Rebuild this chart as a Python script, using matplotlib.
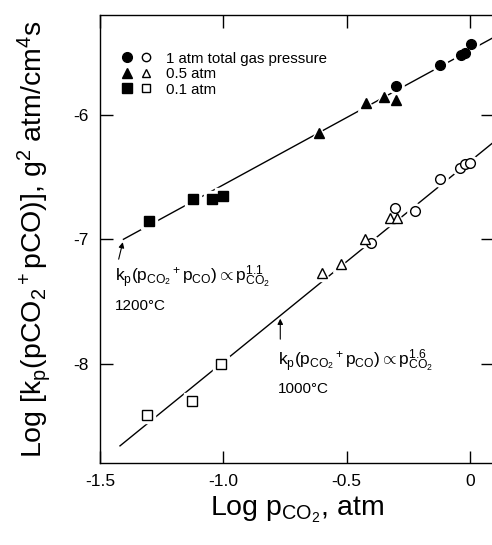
import numpy as np
import matplotlib
matplotlib.use("Agg")
import matplotlib.pyplot as plt
from matplotlib.lines import Line2D
from matplotlib.legend_handler import HandlerTuple

plt.rcParams['font.family'] = ['Liberation Sans', 'DejaVu Sans']
plt.rcParams['mathtext.fontset'] = 'custom'
plt.rcParams['mathtext.rm'] = 'Liberation Sans'
plt.rcParams['mathtext.it'] = 'Liberation Sans'
plt.rcParams['mathtext.bf'] = 'Liberation Sans:bold'
plt.rcParams['axes.unicode_minus'] = False

#-----------------------------
# data
#-----------------------------
# 1200 C (filled symbols)
hot_1atm_x = [-0.298, -0.120, -0.038, -0.018, 0.006]
hot_1atm_y = [-5.767, -5.600, -5.520, -5.500, -5.430]
hot_05atm_x = [-0.611, -0.420, -0.347, -0.298]
hot_05atm_y = [-6.145, -5.900, -5.855, -5.880]
hot_01atm_x = [-1.300, -1.122, -1.045, -1.000]
hot_01atm_y = [-6.850, -6.675, -6.675, -6.650]

# 1000 C (open symbols)
cold_1atm_x = [-0.401, -0.302, -0.221, -0.120, -0.042, -0.018, 0.000]
cold_1atm_y = [-7.030, -6.745, -6.769, -6.516, -6.423, -6.396, -6.388]
cold_05atm_x = [-0.600, -0.521, -0.424, -0.323, -0.295]
cold_05atm_y = [-7.271, -7.197, -6.998, -6.825, -6.825]
cold_01atm_x = [-1.309, -1.128, -1.008]
cold_01atm_y = [-8.410, -8.300, -8.000]

# fitted lines: slope, intercept, x range
hot_fit = (1.08, -5.481, -1.405, 0.095)
cold_fit = (1.61, -6.373, -1.419, 0.095)

legend_labels = ["1 atm total gas pressure", "0.5 atm", "0.1 atm"]
x_ticks = [-1.5, -1.0, -0.5, 0.0]
x_ticklabels = ["-1.5", "-1.0", "-0.5", "0"]
y_ticks = [-8, -7, -6]

#-----------
# the figure
#-----------
fig = plt.figure(figsize=(4.92, 5.45), dpi=100)
ax = fig.add_axes([0.2033, 0.1505, 0.7994, 0.822])

for slope, icpt, x0, x1 in (hot_fit, cold_fit):
    xs = np.array([x0, x1])
    ax.plot(xs, icpt + slope * xs, color='black', lw=1.0, zorder=2)

def pts(x, y, marker, ms, filled):
    # white halo gives the small gaps in the line around each symbol
    ax.plot(x, y, ls='none', marker=marker, ms=ms + 4, color='white', zorder=3)
    fc = 'black' if filled else 'white'
    h, = ax.plot(x, y, ls='none', marker=marker, ms=ms, mfc=fc, mec='black',
                 mew=1.0, zorder=4)
    return h

pts(hot_1atm_x, hot_1atm_y, 'o', 7, True)
pts(hot_05atm_x, hot_05atm_y, '^', 7.5, True)
pts(hot_01atm_x, hot_01atm_y, 's', 7, True)
pts(cold_1atm_x, cold_1atm_y, 'o', 7, False)
pts(cold_05atm_x, cold_05atm_y, '^', 7.5, False)
pts(cold_01atm_x, cold_01atm_y, 's', 7, False)

def proxy(marker, filled, ms):
    return Line2D([], [], ls='none', marker=marker, ms=ms,
                  mfc='black' if filled else 'white', mec='black', mew=1.0)

leg = ax.legend([(proxy('o', True, 7), proxy('o', False, 6)),
                 (proxy('^', True, 7), proxy('^', False, 6)),
                 (proxy('s', True, 7), proxy('s', False, 6))],
                legend_labels, handler_map={tuple: HandlerTuple(ndivide=None, pad=0.5)},
                loc='upper left', bbox_to_anchor=(0.055, 0.918), frameon=False,
                fontsize=10.8, handlelength=2.0, handletextpad=0.95,
                labelspacing=0.1, borderpad=0, borderaxespad=0)

# annotations
ax.annotate('', xy=(-1.405, -7.0), xytext=(-1.427, -7.18),
            arrowprops=dict(arrowstyle='-|>', lw=0.8, color='black', mutation_scale=8))
ax.text(-1.439, -7.33, r"k$_p$(p$_{CO_2}$$^+$p$_{CO}$)$\propto$p$^{1.1}_{CO_2}$",
        fontsize=12.5, ha='left', va='baseline')
ax.text(-1.439, -7.566, "1200°C", fontsize=11, ha='left', va='baseline')

ax.annotate('', xy=(-0.769, -7.614), xytext=(-0.769, -7.823),
            arrowprops=dict(arrowstyle='-|>', lw=0.8, color='black', mutation_scale=8))
ax.text(-0.777, -8.008, r"k$_p$(p$_{CO_2}$$^+$p$_{CO}$)$\propto$p$^{1.6}_{CO_2}$",
        fontsize=12.5, ha='left', va='baseline')
ax.text(-0.777, -8.233, "1000°C", fontsize=11, ha='left', va='baseline')

ax.set_xlim(-1.5, 0.095)
ax.set_ylim(-8.795, -5.197)
ax.set_xticks(x_ticks)
ax.set_xticklabels(x_ticklabels)
ax.set_yticks(y_ticks)
ax.tick_params(direction='in', length=9, width=1.0, labelsize=12.5,
               top=True, right=True, pad=8)
for s in ax.spines.values():
    s.set_linewidth(1.0)

ax.set_xlabel(r"Log p$_{CO_2}$, atm", fontsize=20.5, labelpad=4)
ax.set_ylabel(r"Log [k$_p$(pCO$_2$$^+$pCO)], g$^2$ atm/cm$^4$s", fontsize=20.5)
ax.yaxis.set_label_coords(-0.12, 0.5)

fig.savefig("out.png", dpi=100)
